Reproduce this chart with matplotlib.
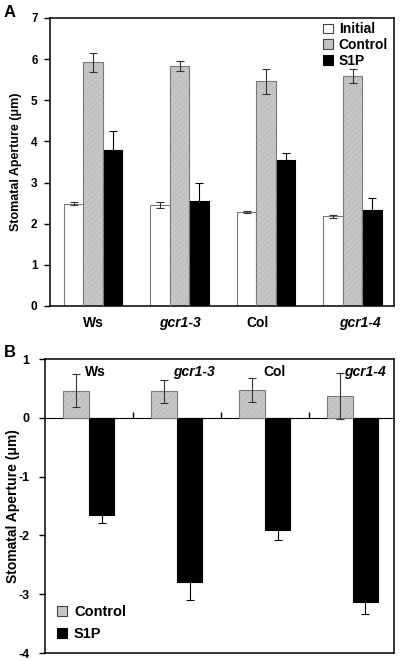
import matplotlib
matplotlib.use("Agg")
import matplotlib.pyplot as plt
import numpy as np
from matplotlib.patches import Patch

plt.rcParams['font.family'] = ['Liberation Sans', 'DejaVu Sans']
plt.rcParams['font.weight'] = 'bold'
plt.rcParams['axes.unicode_minus'] = False
plt.rcParams['hatch.linewidth'] = 0.5

# ---- data ----
genotypes = ["Ws", "gcr1-3", "Col", "gcr1-4"]
italic = [False, True, False, True]

# Panel A
a_initial = [2.49, 2.45, 2.28, 2.18]
a_initial_err = [0.03, 0.08, 0.03, 0.03]
a_control = [5.92, 5.83, 5.46, 5.59]
a_control_err = [0.24, 0.13, 0.30, 0.16]
a_s1p = [3.78, 2.55, 3.55, 2.34]
a_s1p_err = [0.47, 0.45, 0.18, 0.29]

# Panel B
b_control = [0.46, 0.45, 0.47, 0.37]
b_control_err = [0.28, 0.20, 0.20, 0.39]
b_s1p = [-1.66, -2.80, -1.91, -3.13]
b_s1p_err = [0.13, 0.30, 0.16, 0.21]

a_yticks = [0, 1, 2, 3, 4, 5, 6, 7]
b_yticks = [-4, -3, -2, -1, 0, 1]
ylabel = "Stomatal Aperture (\u03bcm)"

# ---- styling ----
gray = '#c6c6c6'
hatch_gray = '#b8b8b8'
edge_gray = '#7a7a7a'

fig = plt.figure(figsize=(4, 6.6), dpi=100)

ekw_g = dict(elinewidth=0.8, capthick=0.8, ecolor='#333333')
ekw_k = dict(elinewidth=0.8, capthick=0.8, ecolor='black')

# ================= Panel A =================
axA = fig.add_axes([0.125, 0.5364, 0.86, 0.4364])
x = np.arange(len(genotypes))
w = 0.225
axA.bar(x - w, a_initial, w, color='white', edgecolor=edge_gray, linewidth=0.8,
        yerr=a_initial_err, capsize=3, error_kw=ekw_g, zorder=2)
axA.bar(x, a_control, w, color=gray, edgecolor=hatch_gray, linewidth=0, hatch='//////', zorder=2)
axA.bar(x, a_control, w, fill=False, edgecolor=edge_gray, linewidth=0.8,
        yerr=a_control_err, capsize=3, error_kw=ekw_g, zorder=3)
axA.bar(x + w, a_s1p, w, color='black', edgecolor='black', linewidth=0.8,
        yerr=a_s1p_err, capsize=3, error_kw=ekw_k, zorder=2)

axA.set_xlim(-0.5, 3.48)
axA.set_ylim(0, 7)
axA.set_yticks(a_yticks)
axA.set_yticklabels([str(t) for t in a_yticks], fontsize=8.5, fontweight='bold')
a_label_off = [0.0, 0.0, -0.1, 0.09]
axA.set_xticks(x + np.array(a_label_off))
axA.set_xticklabels(genotypes, fontsize=10, fontweight='bold')
for lab, it in zip(axA.get_xticklabels(), italic):
    if it:
        lab.set_style('italic')
axA.tick_params(axis='x', length=0, pad=7)
axA.tick_params(axis='y', length=4, width=1, pad=5, direction='out')
for s in axA.spines.values():
    s.set_linewidth(1.1)
axA.set_ylabel(ylabel, fontsize=9, fontweight='bold')
axA.yaxis.set_label_coords(-0.081, 0.5)

hA = [Patch(facecolor='white', edgecolor='#444444', linewidth=0.8),
      Patch(facecolor=gray, edgecolor='#444444', linewidth=0.8),
      Patch(facecolor='black', edgecolor='black', linewidth=0.8)]
legA = axA.legend(hA, ['Initial', 'Control', 'S1P'], loc='upper left',
                  bbox_to_anchor=(0.795, 0.985), frameon=False, fontsize=10,
                  handlelength=0.7, handleheight=0.7, handletextpad=0.4,
                  labelspacing=0.12, borderpad=0, borderaxespad=0)
for t in legA.get_texts():
    t.set_fontweight('bold')

fig.text(0.01, 0.974, 'A', fontsize=12, fontweight='bold', ha='left', va='baseline')

# ================= Panel B =================
axB = fig.add_axes([0.1125, 0.0106, 0.8725, 0.4454])
wb = 0.29
axB.bar(x - wb / 2, b_control, wb, color=gray, edgecolor=hatch_gray, linewidth=0, hatch='//////', zorder=2)
axB.bar(x - wb / 2, b_control, wb, fill=False, edgecolor=edge_gray, linewidth=0.8,
        yerr=b_control_err, capsize=3, error_kw=ekw_g, zorder=3)
axB.bar(x + wb / 2, b_s1p, wb, color='black', edgecolor='black', linewidth=0.8,
        yerr=b_s1p_err, capsize=3, error_kw=ekw_k, zorder=2)

axB.set_xlim(-0.5, 3.47)
axB.set_ylim(-4, 1)
axB.set_yticks(b_yticks)
axB.set_yticklabels([str(t) for t in b_yticks], fontsize=9, fontweight='bold')
axB.set_xticks([])
axB.tick_params(axis='y', length=4, width=1, pad=7, direction='out')
for s in axB.spines.values():
    s.set_linewidth(1.1)
axB.set_ylabel(ylabel, fontsize=10, fontweight='bold')
axB.yaxis.set_label_coords(-0.072, 0.5)

# zero-line category axis with ticks between groups
sec = axB.secondary_xaxis(0.8)
sec.set_xticks([0.5, 1.5, 2.5])
sec.set_xticklabels([])
sec.tick_params(axis='x', length=4, width=1, direction='out')
sec.spines['bottom'].set_linewidth(1.1)

b_label_off = [0.07, 0.19, 0.11, 0.14]
for i, (g, it) in enumerate(zip(genotypes, italic)):
    axB.text(i + b_label_off[i], 0.78, g, fontsize=10, fontweight='bold',
             style='italic' if it else 'normal', ha='center', va='center', zorder=5)

hB = [Patch(facecolor=gray, edgecolor='#444444', linewidth=0.8),
      Patch(facecolor='black', edgecolor='black', linewidth=0.8)]
legB = axB.legend(hB, ['Control', 'S1P'], loc='lower left',
                  bbox_to_anchor=(0.035, 0.04), frameon=False, fontsize=10.5,
                  handlelength=0.7, handleheight=0.7, handletextpad=0.45,
                  labelspacing=0.55, borderpad=0, borderaxespad=0)
for t in legB.get_texts():
    t.set_fontweight('bold')

fig.text(0.01, 0.459, 'B', fontsize=12, fontweight='bold', ha='left', va='baseline')

fig.savefig('out.png', dpi=100)
